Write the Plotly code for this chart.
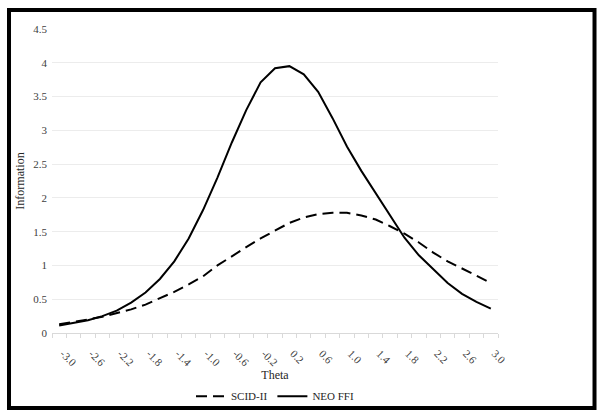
import plotly.graph_objects as go

theta = [round(-3.0 + 0.2 * i, 1) for i in range(31)]
scid_ii = [0.13, 0.16, 0.20, 0.24, 0.29, 0.35, 0.42, 0.51, 0.61, 0.72,
           0.84, 1.00, 1.14, 1.27, 1.40, 1.52, 1.63, 1.71, 1.76, 1.78,
           1.78, 1.74, 1.68, 1.58, 1.47, 1.34, 1.19, 1.06, 0.96, 0.85, 0.74]
neo_ffi = [0.11, 0.15, 0.19, 0.25, 0.33, 0.45, 0.60, 0.80, 1.06, 1.40,
           1.82, 2.30, 2.82, 3.30, 3.71, 3.92, 3.95, 3.83, 3.57, 3.18,
           2.76, 2.40, 2.07, 1.72, 1.41, 1.15, 0.94, 0.74, 0.58, 0.46, 0.36]
x_tick_vals = [-3.0, -2.6, -2.2, -1.8, -1.4, -1.0, -0.6, -0.2, 0.2, 0.6, 1.0, 1.4, 1.8, 2.2, 2.6, 3.0]
x_tick_text = ["-3.0", "-2.6", "-2.2", "-1.8", "-1.4", "-1.0", "-0.6", "-0.2",
               "0.2", "0.6", "1.0", "1.4", "1.8", "2.2", "2.6", "3.0"]
y_tick_vals = [0, 0.5, 1, 1.5, 2, 2.5, 3, 3.5, 4, 4.5]
y_tick_text = ["0", "0.5", "1", "1.5", "2", "2.5", "3", "3.5", "4", "4.5"]

FONT = "Liberation Serif, Times New Roman, serif"

fig = go.Figure()
fig.add_trace(go.Scatter(x=theta, y=scid_ii, mode="lines", name="SCID-II",
                         line=dict(color="black", width=2, dash="11px,6px")))
fig.add_trace(go.Scatter(x=theta, y=neo_ffi, mode="lines", name="NEO FFI",
                         line=dict(color="black", width=2)))

fig.update_layout(
    width=603, height=417,
    margin=dict(l=52, r=105, t=29, b=84),
    paper_bgcolor="white", plot_bgcolor="white",
    font=dict(family=FONT, size=11, color="#262626"),
    showlegend=True,
    legend=dict(orientation="h", x=0.5, xanchor="center",
                yref="container", y=0.05, yanchor="middle",
                bgcolor="rgba(0,0,0,0)",
                font=dict(family=FONT, size=11, color="#262626"),
                itemwidth=30, tracegroupgap=0),
    xaxis=dict(
        range=[-3.1, 3.1], showgrid=False, zeroline=False, automargin=False,
        showline=True, linecolor="#d9d9d9", linewidth=1,
        tickmode="array", tickvals=x_tick_vals, ticktext=x_tick_text,
        ticks="", tickangle=45, ticklabelstandoff=9, ticklabelshift=4,
        tickfont=dict(family=FONT, size=11, color="#404040"),
        minor=dict(ticks="outside", tick0=-3.1, dtick=0.2, ticklen=4,
                   tickcolor="#d9d9d9", showgrid=False),
        title=dict(text="Theta", font=dict(family=FONT, size=12, color="#262626"), standoff=6),
    ),
    yaxis=dict(
        range=[0, 4.5], showgrid=True, gridcolor="#ececec", gridwidth=1,
        zeroline=False, showline=False, automargin=False,
        tickmode="array", tickvals=y_tick_vals, ticktext=y_tick_text,
        ticks="", ticklabelstandoff=4,
        tickfont=dict(family=FONT, size=11, color="#404040"),
        title=dict(text="Information", font=dict(family=FONT, size=12, color="#262626"), standoff=6),
    ),
    shapes=[dict(type="rect", xref="paper", yref="paper",
                 x0=-0.0964, x1=1.2164, y0=-0.2467, y1=1.0625,
                 line=dict(color="black", width=4), fillcolor="rgba(0,0,0,0)")],
)

fig.write_html("out.html", config={"displayModeBar": False},
               post_script="document.body.style.margin='0px';document.body.style.overflow='hidden';")
